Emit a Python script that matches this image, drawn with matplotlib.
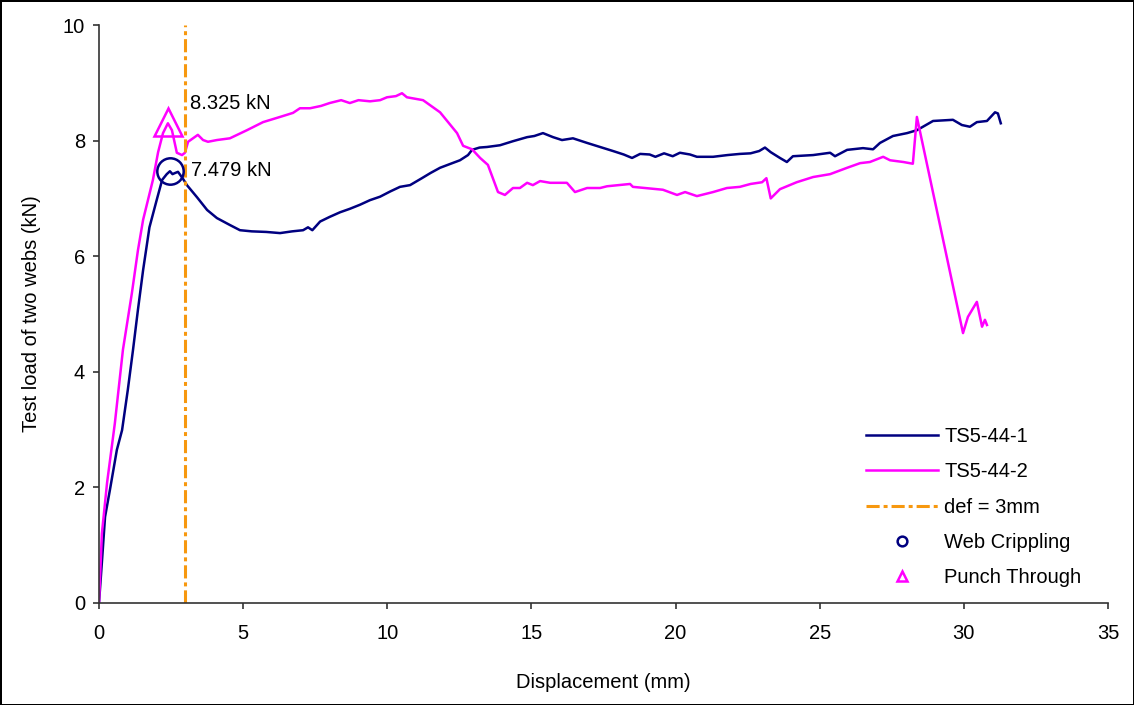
import matplotlib
matplotlib.use("Agg")
import matplotlib.pyplot as plt
from matplotlib.lines import Line2D

# TS5-44-1
ts1_x = [0, 0.1, 0.21, 0.38, 0.62, 0.8, 1.0, 1.18, 1.35, 1.53, 1.75, 2.0, 2.19, 2.35, 2.46,
         2.55, 2.64, 2.74, 2.9, 3.05, 3.4, 3.75, 4.09, 4.54, 4.89, 5.3, 5.8, 6.28, 6.7, 7.08,
         7.25, 7.4, 7.67, 8.0, 8.36, 8.7, 9.05, 9.4, 9.75, 10.1, 10.44, 10.79, 11.2, 11.5,
         11.83, 12.2, 12.52, 12.8, 12.94, 13.2, 13.46, 13.91, 14.36, 14.85, 15.1, 15.4, 15.75,
         16.06, 16.44, 16.93, 17.38, 17.83, 18.2, 18.49, 18.77, 19.1, 19.3, 19.6, 19.9, 20.15,
         20.5, 20.74, 21.3, 21.8, 22.23, 22.6, 22.9, 23.1, 23.3, 23.62, 23.86, 24.07, 24.77,
         25.36, 25.53, 25.95, 26.5, 26.85, 27.09, 27.54, 28.03, 28.37, 28.93, 29.62, 29.93,
         30.21, 30.45, 30.8, 31.08, 31.18, 31.28]
ts1_y = [0, 0.7, 1.49, 1.96, 2.65, 2.99, 3.69, 4.38, 5.07, 5.76, 6.5, 6.97, 7.32, 7.42, 7.47,
         7.42, 7.44, 7.46, 7.35, 7.23, 7.02, 6.8, 6.66, 6.54, 6.45, 6.43, 6.42, 6.40, 6.43, 6.45,
         6.5, 6.45, 6.6, 6.68, 6.76, 6.82, 6.89, 6.97, 7.03, 7.12, 7.2, 7.23, 7.35, 7.44,
         7.53, 7.6, 7.66, 7.75, 7.84, 7.88, 7.89, 7.92, 7.99, 8.06, 8.08, 8.13, 8.06,
         8.01, 8.04, 7.96, 7.89, 7.82, 7.76, 7.7, 7.77, 7.76, 7.72, 7.78, 7.73, 7.79,
         7.76, 7.72, 7.72, 7.75, 7.77, 7.78, 7.82, 7.88, 7.8, 7.7, 7.63, 7.73, 7.75,
         7.79, 7.73, 7.84, 7.87, 7.85, 7.96, 8.08, 8.13, 8.18, 8.34, 8.36, 8.27,
         8.24, 8.32, 8.34, 8.49, 8.47, 8.3]

# TS5-44-2
ts2_x = [0, 0.1, 0.28, 0.55, 0.83, 1.14, 1.35, 1.53, 1.87, 2.05, 2.22, 2.39, 2.53, 2.7, 2.88,
         2.98, 3.09, 3.26, 3.43, 3.61, 3.78, 4.09, 4.54, 5.13, 5.69, 6.28, 6.73, 6.97, 7.32,
         7.7, 8.0, 8.4, 8.7, 9.0, 9.4, 9.75, 9.99, 10.3, 10.51, 10.68, 11.24, 11.83, 12.42,
         12.63, 12.94, 13.22, 13.49, 13.84, 14.08, 14.36, 14.6, 14.85, 15.05, 15.3, 15.65,
         16.23, 16.51, 16.93, 17.38, 17.62, 18.42, 18.52, 19.56, 20.05, 20.33, 20.74, 21.3,
         21.78, 22.23, 22.6, 23.0, 23.15, 23.3, 23.62, 24.2, 24.77, 25.36, 25.95, 26.4, 26.74,
         27.2, 27.44, 27.9, 28.23, 28.37, 29.97, 30.14, 30.45, 30.63, 30.73, 30.8]
ts2_y = [0, 1.2, 2.08, 3.11, 4.38, 5.36, 6.1, 6.63, 7.32, 7.8, 8.13, 8.3, 8.18, 7.79, 7.75,
         7.79, 7.98, 8.04, 8.1, 8.01, 7.98, 8.01, 8.04, 8.18, 8.32, 8.41, 8.48, 8.56, 8.56,
         8.6, 8.65, 8.7, 8.65, 8.7, 8.68, 8.7, 8.75, 8.77, 8.82, 8.75, 8.7, 8.49, 8.13,
         7.91, 7.85, 7.7, 7.58, 7.11, 7.06, 7.18, 7.18, 7.27, 7.23, 7.3, 7.27,
         7.27, 7.11, 7.18, 7.18, 7.21, 7.25, 7.2, 7.15, 7.06, 7.11, 7.04, 7.11,
         7.18, 7.2, 7.25, 7.28, 7.35, 7.0, 7.16, 7.28, 7.37, 7.42, 7.53, 7.61, 7.63,
         7.72, 7.66, 7.63, 7.6, 8.41, 4.67, 4.95, 5.21, 4.78, 4.9, 4.81]

def_x = 3
web_crippling = (2.46, 7.479)
punch_through = (2.39, 8.325)

navy = "#000080"
magenta = "#FF00FF"
orange = "#F7980F"

plt.rcParams["font.family"] = ["Liberation Sans", "DejaVu Sans"]
plt.rcParams["font.size"] = 14.5

fig = plt.figure(figsize=(11.34, 7.05), dpi=100)
fig.patch.set_edgecolor("black")
fig.patch.set_linewidth(2)
ax = fig.add_axes([0.0873, 0.1447, 0.8898, 0.8198])

ax.plot(ts1_x, ts1_y, color=navy, lw=1.8)
ax.plot(ts2_x, ts2_y, color=magenta, lw=1.8)
ax.plot([def_x, def_x], [0, 10], color=orange, lw=2.2, ls=(0, (4.3, 1.3, 1.3, 1.3)))
ax.plot(*web_crippling, marker="o", ms=19, mfc="none", mec=navy, mew=1.8)
ax.plot(*punch_through, marker="^", ms=20, mfc="none", mec=magenta, mew=1.8)

ax.text(3.2, 7.49, "%.3f kN" % web_crippling[1], va="center", ha="left")
ax.text(3.14, 8.65, "%.3f kN" % punch_through[1], va="center", ha="left")

ax.set_xlim(0, 35)
ax.set_ylim(0, 10)
ax.set_xticks(range(0, 36, 5))
ax.set_yticks(range(0, 11, 2))
ax.tick_params(direction="out", length=4, width=1.2, color="#333333")
ax.tick_params(axis="x", pad=11)
ax.tick_params(axis="y", pad=6)
for s in ["top", "right"]:
    ax.spines[s].set_visible(False)
for s in ["left", "bottom"]:
    ax.spines[s].set_color("#333333")
    ax.spines[s].set_linewidth(1.2)

ax.set_xlabel("Displacement (mm)", labelpad=22)
ax.set_ylabel("Test load of two webs (kN)", labelpad=16)

handles = [
    Line2D([], [], color=navy, lw=1.8),
    Line2D([], [], color=magenta, lw=1.8),
    Line2D([], [], color=orange, lw=2.2, ls=(0, (4.3, 1.3, 1.3, 1.3))),
    Line2D([], [], color=navy, marker="o", ms=7, mfc="none", mew=1.8, ls="none"),
    Line2D([], [], color=magenta, marker="^", ms=7, mfc="none", mew=1.8, ls="none"),
]
labels = ["TS5-44-1", "TS5-44-2", "def = 3mm", "Web Crippling", "Punch Through"]
ax.legend(handles, labels, loc="lower left", bbox_to_anchor=(0.76, 0.028),
          frameon=False, borderpad=0, borderaxespad=0, handlelength=3.6,
          handletextpad=0.3, labelspacing=0.8)

fig.savefig("out.png", dpi=100)
